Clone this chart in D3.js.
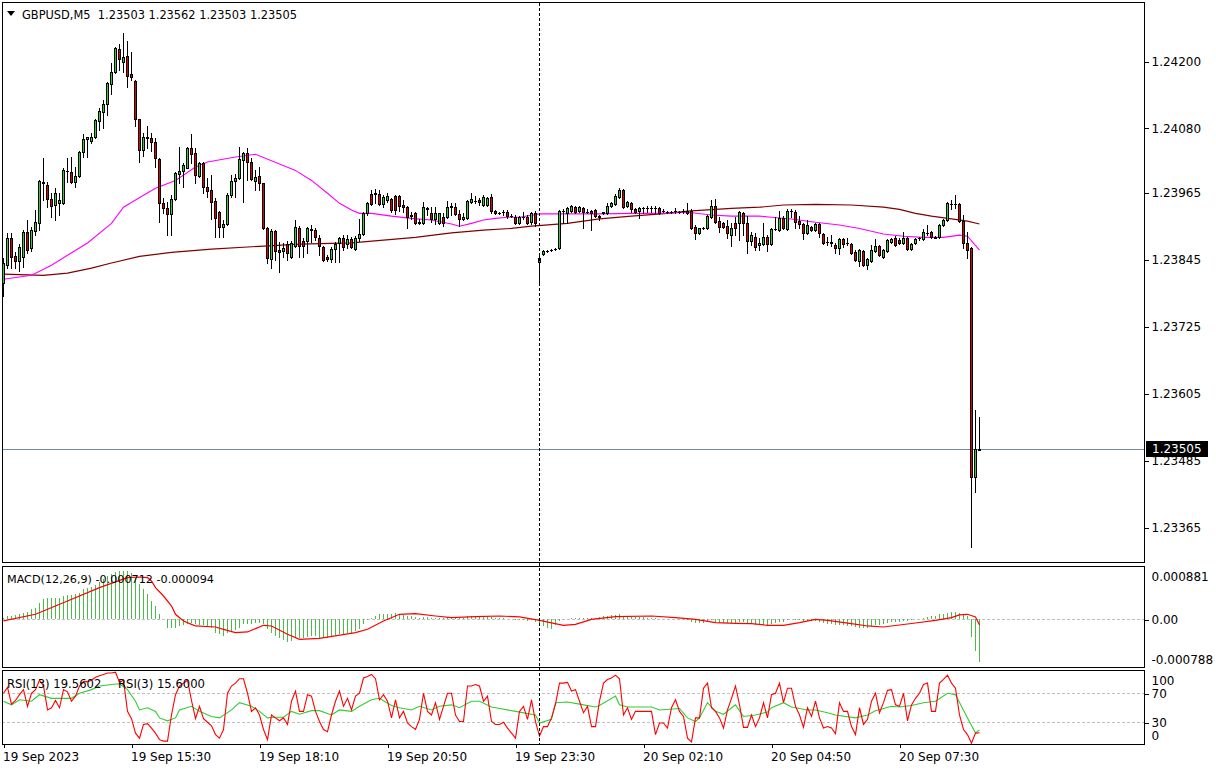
<!DOCTYPE html>
<html><head><meta charset="utf-8">
<script src="https://cdn.jsdelivr.net/npm/d3@7"></script>
<style>
body{margin:0;background:#fff}
svg{display:block}
text{font-family:"DejaVu Sans",Verdana,sans-serif;font-size:12px;fill:#000;white-space:pre}
</style></head>
<body><svg id="c" width="1216" height="771"></svg>
<script>
// ---------- DATA ----------
const open = [
1.23802,1.23834,1.23883,1.23850,1.23841,1.23848,1.23893,1.23865,1.23895,1.23909,
1.23983,1.23977,1.23952,1.23942,1.23945,1.23945,1.24003,1.24001,1.23983,1.23994,
1.24037,1.24060,1.24056,1.24064,1.24092,1.24108,1.24123,1.24159,1.24180,1.24221,
1.24198,1.24209,1.24176,1.24164,1.24096,1.24040,1.24064,1.24062,1.24055,1.24024,
1.23945,1.23936,1.23926,1.23952,1.23997,1.24003,1.24008,1.24044,1.24035,1.23994,
1.24017,1.23974,1.23969,1.23949,1.23929,1.23902,1.23908,1.23960,1.23985,1.23990,
1.24022,1.24035,1.24019,1.23985,1.23994,1.23981,1.23900,1.23845,1.23895,1.23861,
1.23859,1.23872,1.23848,1.23868,1.23900,1.23877,1.23877,1.23897,1.23897,1.23883,
1.23866,1.23848,1.23845,1.23863,1.23874,1.23883,1.23872,1.23881,1.23863,1.23883,
1.23890,1.23927,1.23961,1.23963,1.23961,1.23943,1.23951,1.23952,1.23958,1.23958,
1.23942,1.23938,1.23924,1.23927,1.23909,1.23909,1.23936,1.23927,1.23917,1.23909,
1.23920,1.23920,1.23938,1.23938,1.23926,1.23917,1.23918,1.23947,1.23949,1.23951,
1.23942,1.23942,1.23956,1.23931,1.23927,1.23929,1.23929,1.23922,1.23920,1.23909,
1.23920,1.23920,1.23911,1.23927,1.23840,1.23854,1.23859,1.23861,1.23863,1.23865,
1.23931,1.23927,1.23931,1.23938,1.23931,1.23936,1.23929,1.23931,1.23933,1.23922,
1.23927,1.23927,1.23940,1.23943,1.23956,1.23969,1.23940,1.23945,1.23934,1.23931,
1.23936,1.23936,1.23936,1.23936,1.23936,1.23931,1.23929,1.23929,1.23931,1.23929,
1.23931,1.23931,1.23931,1.23902,1.23892,1.23900,1.23900,1.23920,1.23940,1.23913,
1.23909,1.23904,1.23888,1.23909,1.23909,1.23927,1.23909,1.23877,1.23884,1.23870,
1.23872,1.23884,1.23872,1.23899,1.23897,1.23918,1.23899,1.23931,1.23929,1.23913,
1.23908,1.23892,1.23902,1.23897,1.23908,1.23890,1.23875,1.23875,1.23870,1.23865,
1.23881,1.23874,1.23872,1.23857,1.23841,1.23859,1.23834,1.23841,1.23859,1.23868,
1.23848,1.23859,1.23875,1.23883,1.23879,1.23874,1.23883,1.23863,1.23874,1.23883,
1.23881,1.23892,1.23893,1.23884,1.23884,1.23906,1.23915,1.23943,1.23943,1.23943,
1.23913,1.23874,1.23865,1.23454,1.23503];
const high = [
1.23847,1.23892,1.23892,1.23857,1.23872,1.23897,1.23915,1.23902,1.23933,1.23986,
1.24026,1.23983,1.23963,1.23972,1.23963,1.24008,1.24026,1.24028,1.24010,1.24038,
1.24069,1.24064,1.24071,1.24096,1.24115,1.24130,1.24162,1.24196,1.24225,1.24230,
1.24250,1.24236,1.24216,1.24166,1.24096,1.24071,1.24083,1.24071,1.24062,1.24026,
1.23954,1.23947,1.23960,1.24001,1.24046,1.24017,1.24046,1.24069,1.24044,1.24019,
1.24019,1.23990,1.23995,1.23954,1.23931,1.23915,1.23963,1.23995,1.23997,1.24046,
1.24037,1.24044,1.24026,1.24004,1.24010,1.23981,1.23902,1.23899,1.23897,1.23875,
1.23874,1.23877,1.23877,1.23915,1.23904,1.23883,1.23902,1.23906,1.23900,1.23888,
1.23868,1.23852,1.23866,1.23875,1.23884,1.23888,1.23888,1.23884,1.23886,1.23917,
1.23929,1.23947,1.23969,1.23970,1.23969,1.23960,1.23963,1.23954,1.23960,1.23960,
1.23951,1.23940,1.23929,1.23929,1.23917,1.23947,1.23938,1.23938,1.23938,1.23927,
1.23927,1.23949,1.23945,1.23945,1.23933,1.23927,1.23951,1.23963,1.23958,1.23954,
1.23960,1.23956,1.23961,1.23933,1.23929,1.23933,1.23933,1.23926,1.23924,1.23922,
1.23929,1.23924,1.23929,1.23931,1.23850,1.23861,1.23861,1.23863,1.23865,1.23933,
1.23934,1.23938,1.23942,1.23940,1.23940,1.23938,1.23934,1.23933,1.23934,1.23924,
1.23929,1.23945,1.23947,1.23961,1.23972,1.23970,1.23949,1.23947,1.23936,1.23938,
1.23938,1.23940,1.23940,1.23940,1.23938,1.23934,1.23931,1.23931,1.23936,1.23931,
1.23934,1.23945,1.23934,1.23906,1.23900,1.23902,1.23924,1.23951,1.23952,1.23920,
1.23911,1.23915,1.23909,1.23920,1.23931,1.23929,1.23922,1.23893,1.23892,1.23883,
1.23909,1.23888,1.23900,1.23920,1.23931,1.23922,1.23934,1.23934,1.23933,1.23922,
1.23909,1.23915,1.23904,1.23909,1.23909,1.23892,1.23884,1.23888,1.23874,1.23883,
1.23883,1.23883,1.23874,1.23861,1.23863,1.23861,1.23847,1.23870,1.23881,1.23870,
1.23863,1.23881,1.23883,1.23886,1.23883,1.23893,1.23884,1.23874,1.23883,1.23884,
1.23899,1.23906,1.23895,1.23886,1.23908,1.23917,1.23947,1.23951,1.23960,1.23945,
1.23924,1.23893,1.23866,1.23574,1.23562];
const low = [
1.23779,1.23829,1.23829,1.23829,1.23823,1.23830,1.23856,1.23859,1.23888,1.23897,
1.23951,1.23938,1.23920,1.23915,1.23924,1.23943,1.23983,1.23981,1.23974,1.23992,
1.24028,1.24028,1.24053,1.24062,1.24076,1.24080,1.24103,1.24141,1.24178,1.24184,
1.24180,1.24153,1.24166,1.24083,1.24019,1.24029,1.24044,1.24038,1.24010,1.23911,
1.23927,1.23888,1.23888,1.23951,1.23981,1.23974,1.24008,1.24017,1.23981,1.23992,
1.23963,1.23956,1.23917,1.23884,1.23884,1.23884,1.23906,1.23956,1.23956,1.23988,
1.23947,1.23986,1.23986,1.23969,1.23969,1.23899,1.23838,1.23829,1.23843,1.23822,
1.23848,1.23843,1.23847,1.23866,1.23848,1.23848,1.23856,1.23875,1.23879,1.23852,
1.23841,1.23841,1.23840,1.23840,1.23840,1.23861,1.23865,1.23865,1.23861,1.23877,
1.23888,1.23924,1.23942,1.23945,1.23942,1.23938,1.23947,1.23929,1.23926,1.23931,
1.23929,1.23900,1.23917,1.23908,1.23908,1.23908,1.23924,1.23911,1.23908,1.23908,
1.23904,1.23918,1.23924,1.23924,1.23904,1.23915,1.23917,1.23945,1.23945,1.23942,
1.23940,1.23940,1.23927,1.23926,1.23926,1.23924,1.23918,1.23920,1.23908,1.23908,
1.23917,1.23908,1.23908,1.23904,1.23802,1.23852,1.23857,1.23859,1.23861,1.23863,
1.23909,1.23909,1.23929,1.23927,1.23929,1.23900,1.23927,1.23897,1.23920,1.23915,
1.23926,1.23926,1.23938,1.23942,1.23954,1.23936,1.23938,1.23929,1.23927,1.23918,
1.23927,1.23929,1.23929,1.23927,1.23926,1.23929,1.23927,1.23927,1.23927,1.23927,
1.23927,1.23926,1.23899,1.23881,1.23890,1.23899,1.23899,1.23918,1.23909,1.23893,
1.23900,1.23883,1.23868,1.23888,1.23879,1.23888,1.23856,1.23870,1.23861,1.23861,
1.23870,1.23859,1.23870,1.23897,1.23895,1.23899,1.23897,1.23920,1.23900,1.23900,
1.23881,1.23890,1.23895,1.23895,1.23884,1.23872,1.23870,1.23868,1.23856,1.23854,
1.23866,1.23870,1.23854,1.23841,1.23832,1.23832,1.23827,1.23840,1.23857,1.23850,
1.23847,1.23857,1.23874,1.23868,1.23872,1.23872,1.23861,1.23861,1.23872,1.23879,
1.23879,1.23888,1.23883,1.23883,1.23883,1.23904,1.23913,1.23934,1.23936,1.23911,
1.23865,1.23847,1.23329,1.23427,1.23503];
const close = [
1.23838,1.23883,1.23848,1.23841,1.23866,1.23893,1.23861,1.23897,1.23911,1.23985,
1.23981,1.23952,1.23940,1.23963,1.23951,1.24004,1.24003,1.23983,1.23994,1.24037,
1.24060,1.24064,1.24064,1.24094,1.24110,1.24123,1.24160,1.24180,1.24223,1.24203,
1.24207,1.24173,1.24171,1.24096,1.24040,1.24064,1.24062,1.24055,1.24026,1.23945,
1.23936,1.23926,1.23952,1.23999,1.24003,1.24013,1.24044,1.24033,1.23995,1.24017,
1.23974,1.23967,1.23947,1.23918,1.23902,1.23908,1.23960,1.23985,1.23990,1.24024,
1.24035,1.24019,1.23988,1.23992,1.23981,1.23900,1.23847,1.23895,1.23859,1.23857,
1.23865,1.23856,1.23874,1.23902,1.23868,1.23868,1.23900,1.23899,1.23884,1.23868,
1.23843,1.23845,1.23863,1.23872,1.23883,1.23866,1.23881,1.23866,1.23883,1.23890,
1.23927,1.23945,1.23943,1.23961,1.23943,1.23956,1.23958,1.23933,1.23933,1.23940,
1.23938,1.23920,1.23922,1.23909,1.23911,1.23938,1.23934,1.23917,1.23927,1.23927,
1.23909,1.23938,1.23940,1.23926,1.23917,1.23920,1.23949,1.23952,1.23949,1.23947,
1.23956,1.23954,1.23931,1.23927,1.23927,1.23929,1.23922,1.23922,1.23909,1.23920,
1.23920,1.23909,1.23927,1.23909,1.23847,1.23859,1.23859,1.23861,1.23863,1.23931,
1.23931,1.23936,1.23940,1.23929,1.23938,1.23929,1.23929,1.23927,1.23922,1.23920,
1.23929,1.23940,1.23945,1.23958,1.23969,1.23938,1.23947,1.23934,1.23929,1.23936,
1.23936,1.23936,1.23936,1.23936,1.23927,1.23931,1.23929,1.23929,1.23931,1.23929,
1.23931,1.23927,1.23900,1.23892,1.23900,1.23900,1.23922,1.23940,1.23911,1.23902,
1.23902,1.23892,1.23900,1.23900,1.23929,1.23909,1.23877,1.23888,1.23866,1.23874,
1.23884,1.23872,1.23899,1.23899,1.23918,1.23900,1.23931,1.23931,1.23911,1.23908,
1.23892,1.23906,1.23897,1.23908,1.23892,1.23874,1.23875,1.23874,1.23865,1.23881,
1.23872,1.23874,1.23856,1.23843,1.23861,1.23834,1.23845,1.23861,1.23868,1.23852,
1.23861,1.23879,1.23881,1.23870,1.23874,1.23883,1.23863,1.23872,1.23881,1.23883,
1.23893,1.23892,1.23884,1.23883,1.23906,1.23915,1.23945,1.23943,1.23943,1.23913,
1.23874,1.23861,1.23454,1.23505,1.23505];

// moving averages (bar index, price)
const maFastBars = [0,7,12,16,21,27,30,33,38,43,48,51,58,63,73,77,81,84,87,89,92,97,102,107,112,114,117,120,123,126,129,134,141,149,157,164,171,177,182,189,192,197,203,209,214,220,225,230,235,239,241,244];
const maFastVals = [1.23809,1.23816,1.23834,1.23852,1.23874,1.23909,1.23938,1.23951,1.23972,1.23986,1.24010,1.24019,1.24028,1.24033,1.24004,1.23986,1.23963,1.23945,1.23933,1.23927,1.23927,1.23922,1.23918,1.23915,1.23908,1.23904,1.23909,1.23915,1.23918,1.23920,1.23920,1.23926,1.23926,1.23926,1.23927,1.23927,1.23929,1.23924,1.23922,1.23922,1.23920,1.23917,1.23911,1.23906,1.23900,1.23890,1.23886,1.23884,1.23884,1.23888,1.23886,1.23861];
const maSlowBars = [0,10,16,22,27,34,42,52,64,74,87,95,103,112,120,127,132,141,149,157,166,171,178,182,189,195,203,212,220,224,228,232,237,241,244];
const maSlowVals = [1.23818,1.23816,1.23820,1.23829,1.23838,1.23850,1.23857,1.23863,1.23868,1.23872,1.23874,1.23879,1.23884,1.23892,1.23897,1.23900,1.23904,1.23909,1.23917,1.23922,1.23927,1.23931,1.23934,1.23936,1.23938,1.23942,1.23943,1.23942,1.23938,1.23934,1.23927,1.23922,1.23917,1.23913,1.23908];

// MACD(12,26,9) main (histogram), per bar
const macdHist = [
27e-6,55e-6,55e-6,72e-6,94e-6,110e-6,127e-6,165e-6,193e-6,275e-6,
330e-6,358e-6,358e-6,358e-6,358e-6,385e-6,402e-6,402e-6,413e-6,440e-6,
495e-6,512e-6,534e-6,567e-6,622e-6,660e-6,715e-6,743e-6,787e-6,798e-6,
798e-6,798e-6,770e-6,688e-6,589e-6,495e-6,413e-6,303e-6,220e-6,94e-6,
0,-138e-6,-149e-6,-138e-6,-110e-6,-94e-6,-72e-6,-55e-6,-83e-6,-94e-6,
-99e-6,-110e-6,-138e-6,-220e-6,-248e-6,-275e-6,-220e-6,-193e-6,-182e-6,-138e-6,
-83e-6,-72e-6,-72e-6,-55e-6,-55e-6,-72e-6,-165e-6,-220e-6,-275e-6,-314e-6,
-347e-6,-369e-6,-358e-6,-314e-6,-314e-6,-314e-6,-292e-6,-275e-6,-275e-6,-303e-6,
-314e-6,-314e-6,-275e-6,-259e-6,-237e-6,-237e-6,-220e-6,-220e-6,-193e-6,-165e-6,
-83e-6,-17e-6,17e-6,55e-6,83e-6,94e-6,94e-6,94e-6,110e-6,94e-6,
72e-6,55e-6,55e-6,39e-6,28e-6,39e-6,39e-6,28e-6,28e-6,28e-6,
17e-6,39e-6,39e-6,28e-6,17e-6,28e-6,55e-6,55e-6,55e-6,55e-6,
55e-6,55e-6,39e-6,28e-6,28e-6,17e-6,11e-6,0,-17e-6,-17e-6,
-17e-6,-28e-6,-17e-6,-39e-6,-83e-6,-110e-6,-138e-6,-165e-6,-94e-6,-28e-6,
0,11e-6,17e-6,17e-6,28e-6,28e-6,28e-6,17e-6,28e-6,39e-6,
50e-6,55e-6,66e-6,72e-6,83e-6,55e-6,55e-6,44e-6,39e-6,39e-6,
39e-6,28e-6,28e-6,17e-6,11e-6,11e-6,11e-6,6e-6,6e-6,0,
0,-6e-6,-39e-6,-61e-6,-61e-6,-55e-6,-39e-6,-17e-6,-39e-6,-55e-6,
-55e-6,-61e-6,-61e-6,-61e-6,-39e-6,-50e-6,-83e-6,-83e-6,-99e-6,-99e-6,
-99e-6,-105e-6,-83e-6,-61e-6,-39e-6,-39e-6,-17e-6,0,-6e-6,-6e-6,
-28e-6,-28e-6,-28e-6,-28e-6,-39e-6,-61e-6,-72e-6,-83e-6,-99e-6,-99e-6,
-99e-6,-105e-6,-116e-6,-127e-6,-138e-6,-138e-6,-138e-6,-116e-6,-94e-6,-94e-6,
-83e-6,-61e-6,-50e-6,-50e-6,-39e-6,-28e-6,-28e-6,-17e-6,0,0,
28e-6,39e-6,50e-6,55e-6,83e-6,94e-6,110e-6,121e-6,127e-6,110e-6,
83e-6,55e-6,-292e-6,-523e-6,-712e-6];
// MACD signal (bar, value)
const sigBars = [0,8,16,24,31,34,36,37,38,40,42,43,45,47,48,53,55,58,61,65,67,71,74,79,88,91,95,99,103,108,112,118,124,129,134,140,143,147,153,162,168,173,178,183,187,191,195,199,203,206,212,216,220,224,228,233,237,239,241,243,244];
const sigVals = [-27e-6,83e-6,303e-6,523e-6,688e-6,699e-6,688e-6,633e-6,523e-6,385e-6,220e-6,83e-6,-28e-6,-83e-6,-110e-6,-127e-6,-165e-6,-220e-6,-209e-6,-99e-6,-110e-6,-248e-6,-330e-6,-314e-6,-220e-6,-165e-6,-28e-6,83e-6,94e-6,55e-6,28e-6,44e-6,55e-6,39e-6,-17e-6,-99e-6,-83e-6,0,44e-6,55e-6,28e-6,0,-55e-6,-66e-6,-72e-6,-99e-6,-99e-6,-55e-6,0,-17e-6,-72e-6,-110e-6,-127e-6,-94e-6,-61e-6,-17e-6,28e-6,72e-6,83e-6,39e-6,-94e-6];

// RSI(3), per bar
const rsi3 = [
70,78,55,60,68,75,52,70,75,88, 80,47,50,60,50,75,72,59,66,80,
86,86,88,92,94,96,98,98,99,85, 88,45,35,15,8,27,28,22,15,6,
4,4,40,68,80,84,88,60,35,52, 35,30,25,13,8,20,70,80,84,90,
90,70,45,50,40,20,6,40,36,32, 36,27,59,73,45,45,68,66,45,31,
20,17,40,59,73,52,63,47,66,70, 91,93,96,90,61,68,59,36,61,36,
45,29,24,20,34,70,45,40,57,34, 52,70,70,40,31,31,80,80,82,80,
59,66,31,27,27,30,22,15,8,45, 52,34,61,31,11,24,24,36,55,84,
84,85,73,75,59,43,52,24,24,59, 84,89,91,95,90,40,50,34,45,45,
45,45,45,13,29,29,22,50,61,45, 38,8,3,36,36,77,84,50,45,36,
22,47,63,80,54,23,23,40,24,36, 57,36,68,70,84,57,77,77,52,40,
23,50,38,59,36,22,24,22,14,57, 45,45,24,13,50,27,34,59,70,43,
57,74,75,54,52,70,32,54,63,70, 82,84,45,45,84,89,95,84,77,40,
20,13,1,15,15.6];
// RSI(13) (bar, value)
const rsi13Bars = [0,2,4,7,9,12,14,17,19,22,24,27,29,31,33,34,36,38,39,41,43,44,47,49,52,54,57,59,62,64,66,68,70,72,74,77,79,82,84,87,89,92,94,97,99,102,104,107,109,112,114,117,119,122,124,128,133,134,137,138,141,144,148,149,153,154,156,162,164,169,171,173,174,176,178,180,183,185,188,191,192,195,197,201,203,206,208,213,216,218,222,224,227,230,233,236,238,241,243,244];
const rsi13Vals = [59,54,61,59,68,63,63,63,70,75,80,82,83,75,59,47,50,45,36,32,36,47,52,45,38,36,47,57,52,45,36,37,37,45,41,46,46,40,47,45,52,61,63,53,50,47,52,47,52,54,50,59,59,51,49,45,40,29,34,57,58,55,51,53,66,54,51,51,47,49,36,31,36,57,45,41,54,38,40,44,50,57,51,47,47,43,40,36,40,46,52,51,53,57,59,70,68,36,15,19.56];

const priceTicks = [1.24200,1.24080,1.23965,1.23845,1.23725,1.23605,1.23485,1.23365];
const macdTicks = [0.000881,0,-0.000788];
const rsiTicks = [100,70,30,0];
const rsiLevels = [70,30];
const timeBars = [0,32,64,96,128,160,192,224];
const timeLabels = ["19 Sep 2023","19 Sep 15:30","19 Sep 18:10","19 Sep 20:50","19 Sep 23:30","20 Sep 02:10","20 Sep 04:50","20 Sep 07:30"];
const separatorBar = 134;
const lastPrice = 1.23505;

// ---------- LAYOUT ----------
const svg = d3.select("#c");
const PL = 2, PR = 1145;
const P = {main:[2,562], macd:[566,667], rsi:[670,744]};
const x = d3.scaleLinear().domain([0,244]).range([3,979]);
const cx = i => Math.round(x(i)) + 0.5;
const yP = d3.scaleLinear().domain([1.23365,1.24200]).range([527,61]);
const yM = d3.scaleLinear().domain([-0.000788,0.000881]).range([667,566]);
const yR = d3.scaleLinear().domain([0,100]).range([744,671.5]);

const defs = svg.append("defs");
Object.entries(P).forEach(([k,[t,b]])=>{
  defs.append("clipPath").attr("id","clip-"+k).append("rect")
    .attr("x",PL+1).attr("y",t+1).attr("width",PR-PL-1).attr("height",b-t-1);
});

const n = Math.min(open.length, high.length, low.length, close.length);
const bars = d3.range(n).map(i=>({i,o:open[i],h:high[i],l:low[i],c:close[i]}));

// ---------- MAIN PANEL ----------
const gm = svg.append("g").attr("clip-path","url(#clip-main)").attr("shape-rendering","crispEdges");
gm.append("line").attr("x1",PL).attr("x2",PR).attr("y1",Math.round(yP(lastPrice))+0.5).attr("y2",Math.round(yP(lastPrice))+0.5)
  .attr("stroke","#778899");
const lineMA = d3.line().x(d=>x(d[0])+0.5).y(d=>yP(d[1]));
gm.append("path").datum(d3.zip(maSlowBars,maSlowVals)).attr("d",lineMA).attr("fill","none").attr("stroke","#800000").attr("stroke-width",1.2).attr("shape-rendering","auto");
gm.append("path").datum(d3.zip(maFastBars,maFastVals)).attr("d",lineMA).attr("fill","none").attr("stroke","#ff00ff").attr("stroke-width",1.1).attr("shape-rendering","auto");
gm.selectAll("line.wick").data(bars).join("line").attr("class","wick")
  .attr("x1",d=>cx(d.i)).attr("x2",d=>cx(d.i))
  .attr("y1",d=>Math.round(yP(d.h))).attr("y2",d=>Math.round(yP(d.l))+1)
  .attr("stroke","#000");
gm.selectAll("rect.body").data(bars.filter(d=>d.o!==d.c)).join("rect").attr("class","body")
  .attr("x",d=>cx(d.i)-1).attr("width",2)
  .attr("y",d=>Math.round(yP(Math.max(d.o,d.c)))+0.5)
  .attr("height",d=>Math.max(0,Math.round(yP(Math.min(d.o,d.c)))-Math.round(yP(Math.max(d.o,d.c)))))
  .attr("fill",d=>d.c>d.o?"#32cd32":"#e00000").attr("stroke","#000");
gm.selectAll("line.doji").data(bars.filter(d=>d.o===d.c)).join("line").attr("class","doji")
  .attr("x1",d=>cx(d.i)-1.5).attr("x2",d=>cx(d.i)+1.5)
  .attr("y1",d=>Math.round(yP(d.o))+0.5).attr("y2",d=>Math.round(yP(d.o))+0.5)
  .attr("stroke","#000");

// ---------- MACD PANEL ----------
const gd = svg.append("g").attr("clip-path","url(#clip-macd)").attr("shape-rendering","crispEdges");
gd.append("line").attr("x1",PL).attr("x2",PR).attr("y1",Math.round(yM(0))+0.5).attr("y2",Math.round(yM(0))+0.5)
  .attr("stroke","#c0c0c0").attr("stroke-dasharray","3,2");
gd.selectAll("line.h").data(macdHist.map((v,i)=>({i,v}))).join("line").attr("class","h")
  .attr("x1",d=>cx(d.i)).attr("x2",d=>cx(d.i))
  .attr("y1",Math.round(yM(0))).attr("y2",d=>Math.round(yM(d.v)))
  .attr("stroke","#4cbb4c");
gd.append("path").datum(d3.zip(sigBars,sigVals))
  .attr("d",d3.line().x(d=>x(d[0])+0.5).y(d=>yM(d[1])))
  .attr("fill","none").attr("stroke","#ff0000").attr("stroke-width",1.2).attr("shape-rendering","auto");

// ---------- RSI PANEL ----------
const gr = svg.append("g").attr("clip-path","url(#clip-rsi)");
gr.selectAll("line.lv").data(rsiLevels).join("line").attr("class","lv")
  .attr("x1",PL).attr("x2",PR).attr("y1",d=>Math.round(yR(d))+0.5).attr("y2",d=>Math.round(yR(d))+0.5)
  .attr("stroke","#c0c0c0").attr("stroke-dasharray","3,2").attr("shape-rendering","crispEdges");
gr.append("path").datum(d3.zip(rsi13Bars,rsi13Vals))
  .attr("d",d3.line().x(d=>x(d[0])+0.5).y(d=>yR(d[1])))
  .attr("fill","none").attr("stroke","#32cd32").attr("stroke-width",1.1);
gr.append("path").datum(rsi3.map((v,i)=>[i,v]))
  .attr("d",d3.line().x(d=>x(d[0])+0.5).y(d=>yR(d[1])))
  .attr("fill","none").attr("stroke","#ff0000").attr("stroke-width",1.1);

// ---------- SEPARATOR ----------
svg.append("line").attr("x1",cx(separatorBar)).attr("x2",cx(separatorBar))
  .attr("y1",P.main[0]+1).attr("y2",P.rsi[1])
  .attr("stroke","#000").attr("stroke-dasharray","3,2").attr("shape-rendering","crispEdges");

// ---------- FRAMES ----------
Object.values(P).forEach(([t,b])=>{
  svg.append("rect").attr("x",PL+0.5).attr("y",t+0.5).attr("width",PR-PL-1).attr("height",b-t)
    .attr("fill","none").attr("stroke","#000").attr("shape-rendering","crispEdges");
});

// ---------- AXES ----------
function styleAxis(g){
  g.select(".domain").remove();
  g.selectAll(".tick line").attr("stroke","#000").attr("shape-rendering","crispEdges");
  g.selectAll(".tick text").attr("fill","#000").style("font-family","'DejaVu Sans',sans-serif").style("font-size","12px");
}
const axP = svg.append("g").attr("transform",`translate(${PR-0.5},0.5)`)
  .call(d3.axisRight(yP).tickValues(priceTicks).tickFormat(d3.format(".5f")).tickSize(4).tickPadding(3));
styleAxis(axP);

const axM = svg.append("g").attr("transform",`translate(${PR-0.5},0.5)`)
  .call(d3.axisRight(yM).tickValues(macdTicks).tickFormat(d=>d===0?"0.00":d.toFixed(6)).tickSize(4).tickPadding(3));
styleAxis(axM);
axM.selectAll(".tick").each(function(d){
  const t=d3.select(this);
  if(d!==0) t.select("line").remove();
  if(d>0) t.select("text").attr("y",10);
  if(d<0) t.select("text").attr("y",-8);
});

const axR = svg.append("g").attr("transform",`translate(${PR-0.5},0.5)`)
  .call(d3.axisRight(yR).tickValues(rsiTicks).tickFormat(d3.format("d")).tickSize(4).tickPadding(3));
styleAxis(axR);
axR.selectAll(".tick").each(function(d){
  const t=d3.select(this);
  if(d===100||d===0) t.select("line").remove();
  if(d===100) t.select("text").attr("y",8.5);
  if(d===0) t.select("text").attr("y",-9);
});

const axT = svg.append("g").attr("transform",`translate(0.5,${P.rsi[1]})`)
  .call(d3.axisBottom(x).tickValues(timeBars).tickFormat((d,i)=>timeLabels[i]).tickSize(4).tickPadding(4));
styleAxis(axT);
axT.selectAll(".tick text").attr("text-anchor","start").attr("x",-1);

// current price tag
const yl = Math.round(yP(lastPrice));
svg.append("rect").attr("x",1146).attr("y",yl-8).attr("width",62).attr("height",16).attr("fill","#000");
svg.append("text").attr("x",1152).attr("y",yl).attr("dy","0.35em").style("fill","#fff").text(d3.format(".5f")(lastPrice));

// ---------- LABELS ----------
svg.append("path").attr("d","M7,11 L15,11 L11,16 Z").attr("fill","#000");
svg.append("text").attr("x",22).attr("y",19).style("font-size","11.4px").text("GBPUSD,M5  1.23503 1.23562 1.23503 1.23505");
svg.append("text").attr("x",7).attr("y",583).style("font-size","11.2px").text("MACD(12,26,9) -0.000712 -0.000094");
svg.append("text").attr("x",7).attr("y",688).style("font-size","11.6px").text("RSI(13) 19.5602");
svg.append("text").attr("x",118).attr("y",688).style("font-size","11.6px").text("RSI(3) 15.6000");
</script>
</body></html>
